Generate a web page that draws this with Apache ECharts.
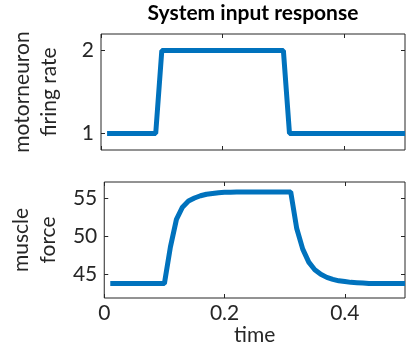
<!DOCTYPE html>
<html lang="en">
<head>
<meta charset="UTF-8">
<title>System input response</title>
<script src="https://cdn.jsdelivr.net/npm/echarts@6/dist/echarts.min.js"></script>
<style>
  html, body { margin: 0; padding: 0; background: #fff; }
  #chart { width: 406px; height: 351px; }
</style>
</head>
<body>
<div id="chart"></div>
<script>
// sample times (s)
const time = [0.01, 0.02, 0.03, 0.04, 0.05, 0.06, 0.07, 0.08, 0.09, 0.10,
              0.11, 0.12, 0.13, 0.14, 0.15, 0.16, 0.17, 0.18, 0.19, 0.20,
              0.21, 0.22, 0.23, 0.24, 0.25, 0.26, 0.27, 0.28, 0.29, 0.30,
              0.31, 0.32, 0.33, 0.34, 0.35, 0.36, 0.37, 0.38, 0.39, 0.40,
              0.41, 0.42, 0.43, 0.44, 0.45, 0.46, 0.47, 0.48, 0.49, 0.50];
// motorneuron firing rate
const firingRate = [1, 1, 1, 1, 1, 1, 1, 1, 1, 2,
                    2, 2, 2, 2, 2, 2, 2, 2, 2, 2,
                    2, 2, 2, 2, 2, 2, 2, 2, 2, 2,
                    1, 1, 1, 1, 1, 1, 1, 1, 1, 1,
                    1, 1, 1, 1, 1, 1, 1, 1, 1, 1];
// muscle force
const muscleForce = [43.8, 43.8, 43.8, 43.8, 43.8, 43.8, 43.8, 43.8, 43.8, 43.8,
                     48.6, 52.2, 53.8, 54.6, 55.0, 55.3, 55.5, 55.6, 55.7, 55.75,
                     55.77, 55.8, 55.8, 55.8, 55.8, 55.8, 55.8, 55.8, 55.8, 55.8,
                     55.8, 51.0, 48.3, 46.6, 45.6, 45.0, 44.6, 44.35, 44.15, 44.05,
                     43.95, 43.9, 43.85, 43.8, 43.8, 43.8, 43.8, 43.8, 43.8, 43.8];

const timeTicks = [0, 0.2, 0.4];
const rateTicks = [1, 2];
const forceTicks = [45, 50, 55];

const textColor = '#262626';
const font = 'Lato';

let chart = echarts.init(document.getElementById('chart'));

function xAx(grid, pos, labels) {
  return {
    type: 'value', gridIndex: grid, position: pos, min: 0, max: 0.5,
    axisLine: { show: false, onZero: false },
    axisTick: { show: true, inside: true, length: 4, customValues: timeTicks,
                lineStyle: { color: textColor, width: 1 } },
    axisLabel: { show: labels, customValues: timeTicks, margin: 5,
                 color: textColor, fontSize: 21, fontFamily: font },
    splitLine: { show: false },
    name: labels ? 'time' : '', nameLocation: 'middle', nameGap: 26,
    nameTextStyle: { color: textColor, fontSize: 21, fontFamily: font }
  };
}

function yAx(grid, pos, min, max, ticks, name) {
  return {
    type: 'value', gridIndex: grid, position: pos, min: min, max: max,
    axisLine: { show: false, onZero: false },
    axisTick: { show: true, inside: true, length: 4, customValues: ticks,
                lineStyle: { color: textColor, width: 1 } },
    axisLabel: { show: pos === 'left', customValues: ticks, margin: 7,
                 color: textColor, fontSize: 21, fontFamily: font },
    splitLine: { show: false },
    name: pos === 'left' ? name : '', nameLocation: 'middle', nameRotate: 90, nameGap: 38,
    nameTextStyle: { color: textColor, fontSize: 21, lineHeight: 27, fontFamily: font }
  };
}

const option = {
  animation: false,
  backgroundColor: '#fff',
  graphic: [{
    type: 'text', x: 253, y: 3,
    style: { text: 'System input response', fontSize: 21, fontWeight: 'bold',
             fontFamily: font, fill: '#000', align: 'center', verticalAlign: 'top' }
  }],
  grid: [
    { left: 101, right: 1, top: 34, height: 116, show: true,
      borderColor: textColor, borderWidth: 1, backgroundColor: 'transparent' },
    { left: 101, right: 1, top: 182, height: 116, show: true,
      borderColor: textColor, borderWidth: 1, backgroundColor: 'transparent' }
  ],
  xAxis: [
    xAx(0, 'bottom', false), xAx(0, 'top', false),
    xAx(1, 'bottom', true), xAx(1, 'top', false)
  ],
  yAxis: [
    yAx(0, 'left', 0.8, 2.2, rateTicks, 'motorneuron\nfiring rate'),
    yAx(0, 'right', 0.8, 2.2, rateTicks, ''),
    yAx(1, 'left', 41.9, 57.1, forceTicks, 'muscle\nforce'),
    yAx(1, 'right', 41.9, 57.1, forceTicks, '')
  ],
  series: [
    {
      type: 'line', xAxisIndex: 0, yAxisIndex: 0, showSymbol: false,
      data: time.map((t, i) => [t, firingRate[i]]),
      lineStyle: { color: '#0072BD', width: 5 }
    },
    {
      type: 'line', xAxisIndex: 2, yAxisIndex: 2, showSymbol: false,
      data: time.map((t, i) => [t, muscleForce[i]]),
      lineStyle: { color: '#0072BD', width: 5 }
    }
  ]
};

chart.setOption(option);
</script>
</body>
</html>
